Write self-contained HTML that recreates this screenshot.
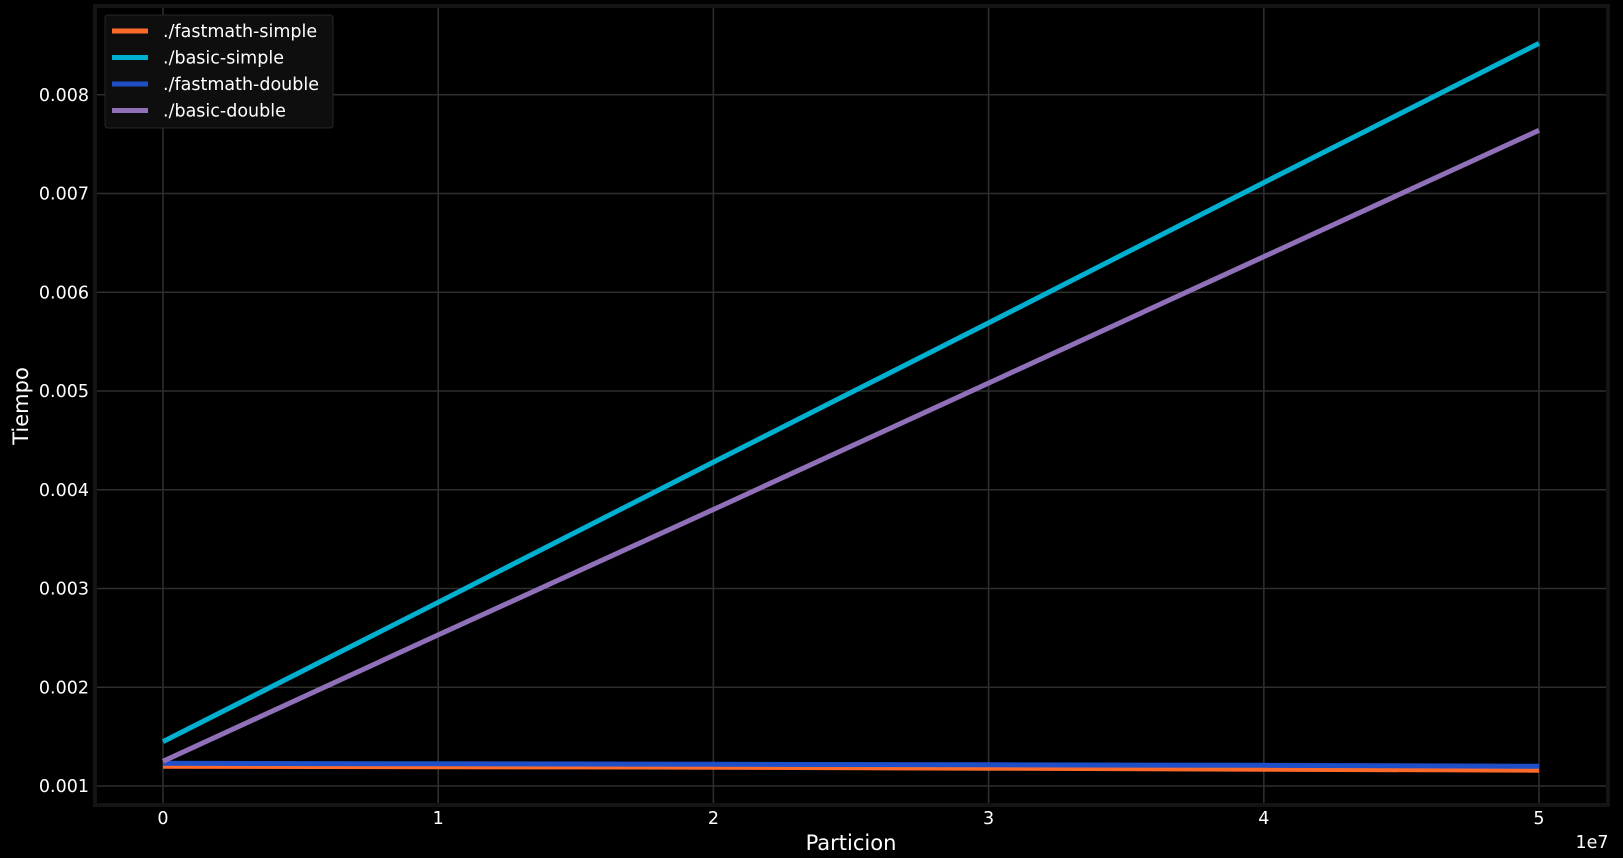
<!DOCTYPE html>
<html><head><meta charset="utf-8"><style>
html,body{margin:0;padding:0;background:#000;}
svg{display:block;font-family:"DejaVu Sans","Liberation Sans",sans-serif;}
</style></head><body>
<svg id="chart" width="1623" height="858" viewBox="0 0 1623 858">
<rect x="0" y="0" width="1623" height="858" fill="#000"/>
<g id="grid"></g>
<g id="series"></g>
<rect x="95" y="6" width="1513" height="799" fill="none" stroke="#141414" stroke-width="4"/>
<g id="ticks"></g>
<text x="1592" y="848" fill="#fff" font-size="17.5" text-anchor="middle">1e7</text>
<text x="851" y="850" fill="#fff" font-size="21" text-anchor="middle">Particion</text>
<text x="28" y="406" fill="#fff" font-size="21" text-anchor="middle" transform="rotate(-90 28 406)">Tiempo</text>
<g id="legend"></g>
</svg>
<script>
const xValues = [0, 1, 2, 3, 4, 5];
const xTicks = [0, 1, 2, 3, 4, 5];
const yTicks = [0.001, 0.002, 0.003, 0.004, 0.005, 0.006, 0.007, 0.008];
const seriesNames = ["./fastmath-simple", "./basic-simple", "./fastmath-double", "./basic-double"];
const fastmathSimple = [0.00120, 0.001195, 0.00119, 0.00118, 0.00117, 0.00116];
const basicSimple = [0.00145, 0.00286, 0.00428, 0.00569, 0.00711, 0.00852];
const fastmathDouble = [0.00123, 0.001225, 0.00122, 0.001215, 0.00121, 0.00120];
const basicDouble = [0.00125, 0.00253, 0.00380, 0.00508, 0.00636, 0.00764];
const colors = ["#ff6a2b", "#00b0d0", "#1f4fc8", "#9070b8"];
const allSeries = [fastmathSimple, basicSimple, fastmathDouble, basicDouble];
const drawOrder = [0, 2, 1, 3];

const NS = "http://www.w3.org/2000/svg";
function xs(v){ return 163 + v * 275.2; }
function ys(v){ return 786 - (v - 0.001) * 98750; }
function mk(tag, attrs, parent){ const e = document.createElementNS(NS, tag); for (const k in attrs) e.setAttribute(k, attrs[k]); parent.appendChild(e); return e; }

const grid = document.getElementById("grid");
const ticks = document.getElementById("ticks");
xTicks.forEach(t => {
  const l = mk("line", {x1: xs(t), x2: xs(t), y1: 8, y2: 803, stroke: "#2e2e2e", "stroke-width": 1.6}, grid);
  
  
  const tx = mk("text", {x: xs(t), y: 824, fill: "#fff", "font-size": 17.5, "text-anchor": "middle"}, ticks);
  tx.textContent = t;
  
  
});
yTicks.forEach(t => {
  const l = mk("line", {x1: 97, x2: 1606, y1: ys(t), y2: ys(t), stroke: "#2e2e2e", "stroke-width": 1.6}, grid);
  
  
  const tx = mk("text", {x: 89, y: ys(t) + 6, fill: "#fff", "font-size": 17.5, "text-anchor": "end"}, ticks);
  tx.textContent = t.toFixed(3);
  
  
});

const sg = document.getElementById("series");
drawOrder.forEach(i => {
  const pts = allSeries[i].map((v, j) => xs(xValues[j]).toFixed(1) + "," + ys(v).toFixed(1)).join(" ");
  const pl = mk("polyline", {points: pts, fill: "none", stroke: colors[i], "stroke-width": 5}, sg);
  
  
});

const lg = document.getElementById("legend");
const box = mk("rect", {x: 105, y: 15, width: 228, height: 113, rx: 3, fill: "#0e0e0e", stroke: "#262626", "stroke-width": 1}, lg);


seriesNames.forEach((n, i) => {
  const y = 31 + i * 26.5;
  const sw = mk("line", {x1: 112, x2: 148, y1: y, y2: y, stroke: colors[i], "stroke-width": 5}, lg);
  
  
  const tx = mk("text", {x: 163, y: y + 6, fill: "#fff", "font-size": 17.5}, lg);
  tx.textContent = n;
  
  
});
</script>
</body></html>
